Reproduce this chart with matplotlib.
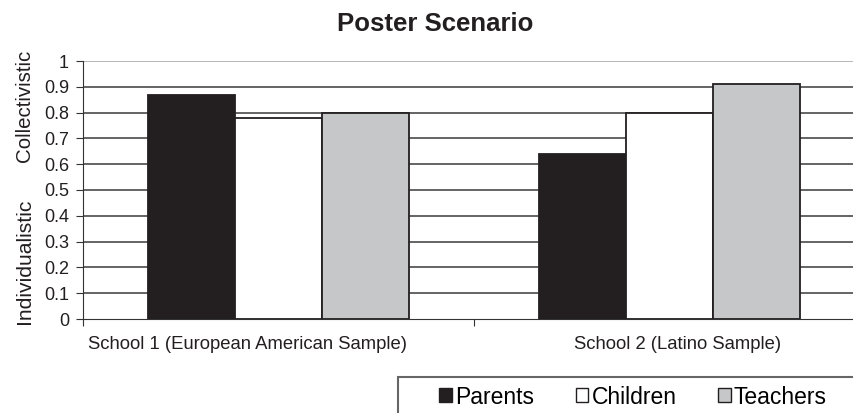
import numpy as np
import matplotlib.pyplot as plt
from matplotlib.patches import Patch, Rectangle

plt.rcParams['font.family'] = ['Liberation Sans', 'DejaVu Sans']

schools = ["School 1 (European American Sample)", "School 2 (Latino Sample)"]
groups = ["Parents", "Children", "Teachers"]
parents = [0.87, 0.64]
children = [0.78, 0.80]
teachers = [0.80, 0.91]
yticks = [0, 0.1, 0.2, 0.3, 0.4, 0.5, 0.6, 0.7, 0.8, 0.9, 1]

colors = ["#231f20", "#ffffff", "#c6c7c9"]
ink = "#231f20"

fig = plt.figure(figsize=(8.54, 4.13), dpi=100)
# plot area runs off the right edge of the figure
ax = fig.add_axes([83/854, 1-319/413, (865-83)/854, (319-61)/413])

x = np.arange(len(schools)) + 0.5
w = 0.223
for i, vals in enumerate([parents, children, teachers]):
    ax.bar(x + (i-1)*w, vals, w, color=colors[i], edgecolor=ink,
           linewidth=1.3, zorder=3)

ax.set_xlim(0, 2)
ax.set_ylim(0, 1)
ax.set_yticks(yticks)
ax.set_yticklabels([("%g" % v) for v in yticks], fontsize=13, color=ink)
for v in yticks[1:]:
    ax.axhline(v, color="#4a4a4a" if v != 1 else "#aaaaaa", lw=1.2, zorder=1)

ax.set_xticks([0, 1, 2])
ax.set_xticklabels([])
# category labels sit a little off-centre
ax.set_xticks([0.42, 1.52], minor=True)
ax.set_xticklabels(schools, minor=True, fontsize=13.3, color=ink)
ax.tick_params(axis='x', which='minor', length=0, pad=12)
ax.tick_params(axis='x', which='major', length=5, direction='out', color="#333333")
ax.tick_params(axis='y', length=5, direction='out', color="#333333", pad=5)
for s in ['top', 'right']:
    ax.spines[s].set_visible(False)
ax.spines['left'].set_color("#333333")
ax.spines['bottom'].set_color("#333333")

fig.text(435/854, 1-24/413, "Poster Scenario", ha='center', va='center',
         fontsize=18.5, fontweight='bold', color=ink)
fig.text(25/854, 1-261/413, "Individualistic", rotation=90, ha='center',
         va='center', fontsize=15.2, color=ink)
fig.text(25/854, 1-106/413, "Collectivistic", rotation=90, ha='center',
         va='center', fontsize=14.8, color=ink)

# legend box, cut off by the figure edges
fig.patches.append(Rectangle((398/854, -0.05), 0.6, 1-377/413+0.05,
                             transform=fig.transFigure, facecolor='none',
                             edgecolor="#666666", lw=1.5))
handles = [Patch(facecolor=c, edgecolor=ink, lw=1) for c in colors]
fig.legend(handles, groups, loc='center left', ncol=3, frameon=False,
           bbox_to_anchor=(421/854, 1-397/413), fontsize=16.5,
           handlelength=0.55, handleheight=0.55, handletextpad=0.15,
           columnspacing=1.8, borderpad=0.3)

fig.savefig("out.png", dpi=100)
